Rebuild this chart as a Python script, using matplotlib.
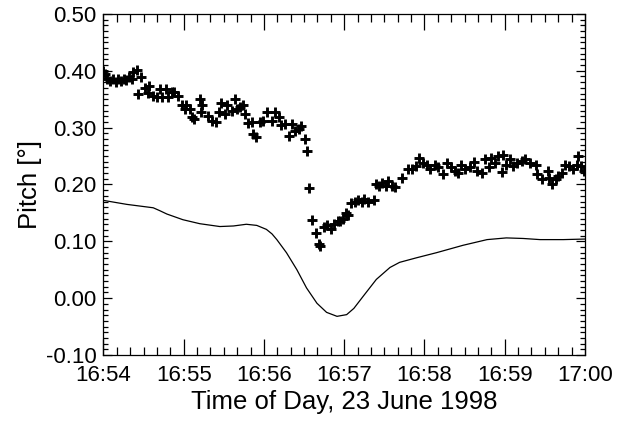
import matplotlib
matplotlib.use('Agg')
import matplotlib.pyplot as plt
from matplotlib.ticker import MultipleLocator

plt.rcParams['font.family'] = ['Liberation Sans', 'DejaVu Sans']

# measured pitch, seconds after 16:54:00
meas_sec = [0, 1, 3, 5, 7, 9, 11, 13, 15, 17, 19, 21, 22, 25, 26, 28, 31, 33, 34, 37,
            40, 42, 44, 47, 48, 51, 53, 56, 59, 61, 62, 65, 66, 68, 72, 73, 74, 78, 81, 84,
            86, 88, 91, 92, 96, 98, 100, 102, 104, 106, 108, 111, 112, 114, 117, 119, 122,
            126, 128, 131, 133, 136, 139, 141, 143, 146, 148, 151, 152, 154, 156, 159, 161,
            162, 165, 167, 170, 172, 175, 177, 179, 181, 183, 185, 188, 190, 193, 195, 198,
            202, 204, 206, 208, 211, 213, 216, 218, 223, 228, 231, 234, 236, 239, 242, 244,
            248, 250, 254, 257, 260, 263, 265, 267, 270, 274, 277, 279, 283, 285, 288, 290,
            293, 295, 298, 299, 301, 304, 306, 309, 313, 315, 319, 323, 324, 328, 332, 333,
            335, 338, 340, 343, 345, 348, 351, 354, 355, 357, 359]
meas_pitch = [0.400, 0.395, 0.385, 0.382, 0.385, 0.381, 0.385, 0.382, 0.386, 0.384, 0.389,
              0.386, 0.398, 0.402, 0.360, 0.389, 0.370, 0.361, 0.374, 0.356, 0.354, 0.368,
              0.354, 0.368, 0.354, 0.362, 0.363, 0.356, 0.339, 0.333, 0.340, 0.333, 0.319,
              0.315, 0.350, 0.327, 0.339, 0.321, 0.312, 0.310, 0.327, 0.343, 0.324, 0.340,
              0.330, 0.350, 0.333, 0.336, 0.339, 0.324, 0.309, 0.310, 0.288, 0.283, 0.310,
              0.312, 0.328, 0.312, 0.328, 0.319, 0.304, 0.306, 0.286, 0.306, 0.294, 0.297,
              0.303, 0.280, 0.259, 0.193, 0.137, 0.115, 0.096, 0.092, 0.126, 0.128, 0.122,
              0.130, 0.135, 0.135, 0.140, 0.150, 0.147, 0.168, 0.170, 0.173, 0.170, 0.175,
              0.170, 0.173, 0.200, 0.198, 0.203, 0.197, 0.206, 0.197, 0.195, 0.212, 0.227,
              0.228, 0.232, 0.247, 0.238, 0.235, 0.227, 0.235, 0.230, 0.218, 0.238, 0.230,
              0.224, 0.221, 0.235, 0.227, 0.230, 0.240, 0.224, 0.221, 0.244, 0.230, 0.247,
              0.238, 0.250, 0.222, 0.251, 0.235, 0.244, 0.232, 0.238, 0.241, 0.244, 0.238,
              0.235, 0.218, 0.209, 0.224, 0.212, 0.200, 0.209, 0.215, 0.221, 0.235, 0.232,
              0.227, 0.235, 0.250, 0.232, 0.224]

# model curve, minutes after 16:54
model_min = [0.0, 0.29, 0.62, 0.70, 0.79, 0.99, 1.20, 1.45, 1.62, 1.78, 1.91, 2.03, 2.10,
             2.16, 2.28, 2.41, 2.53, 2.66, 2.78, 2.91, 3.03, 3.12, 3.24, 3.40, 3.57, 3.69,
             3.90, 4.15, 4.48, 4.78, 5.02, 5.23, 5.44, 5.73, 6.0]
model_pitch = [0.172, 0.165, 0.159, 0.154, 0.148, 0.138, 0.131, 0.126, 0.127, 0.130, 0.128,
               0.121, 0.113, 0.103, 0.080, 0.050, 0.018, -0.009, -0.025, -0.032, -0.029,
               -0.018, 0.004, 0.033, 0.054, 0.063, 0.071, 0.080, 0.093, 0.103, 0.106, 0.105,
               0.103, 0.103, 0.104]

xtick_labels = ['16:54', '16:55', '16:56', '16:57', '16:58', '16:59', '17:00']
ytick_vals = [-0.10, 0.00, 0.10, 0.20, 0.30, 0.40, 0.50]

fig = plt.figure(figsize=(6.23, 4.26), dpi=100)
ax = fig.add_axes([0.1661, 0.1667, 0.7729, 0.8005])

meas_min = [s / 60.0 for s in meas_sec]
ax.plot(meas_min, meas_pitch, '+', color='black', markersize=7, mew=2.1)
ax.plot(model_min, model_pitch, '-', color='black', lw=0.9)

ax.set_xlim(0, 6)
ax.set_ylim(-0.10, 0.50)
ax.set_xticks(range(len(xtick_labels)))
ax.set_xticklabels(xtick_labels)
ax.xaxis.set_minor_locator(MultipleLocator(1 / 6.0))
ax.set_yticks(ytick_vals)
ax.set_yticklabels(['%.2f' % v for v in ytick_vals])
ax.yaxis.set_minor_locator(MultipleLocator(0.01))

ax.tick_params(which='both', direction='in', top=True, right=True, labelsize=16, width=0.9)
ax.tick_params(axis='x', which='major', length=11.5, pad=7)
ax.tick_params(axis='x', which='minor', length=5.8)
ax.tick_params(axis='y', which='major', length=6.8, pad=5)
ax.tick_params(axis='y', which='minor', length=3.6)
for sp in ax.spines.values():
    sp.set_linewidth(0.9)

ax.set_xlabel('Time of Day, 23 June 1998', fontsize=18.5, labelpad=3)
ax.set_ylabel('Pitch [°]', fontsize=18.5, labelpad=3)

fig.savefig('out.png', dpi=100)
